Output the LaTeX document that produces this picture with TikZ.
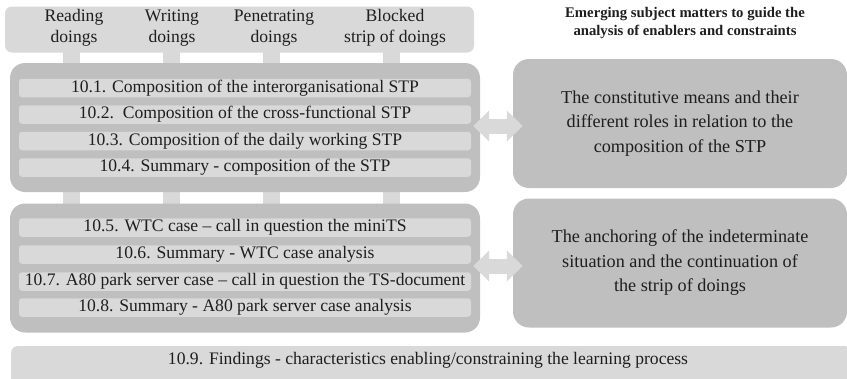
\documentclass[tikz,border=0pt]{standalone}
\usepackage{fontspec}
\setmainfont{Liberation Serif}
\usetikzlibrary{arrows.meta,positioning}
\definecolor{lightgr}{HTML}{D9D9D9}
\definecolor{midgr}{HTML}{BFBFBF}
\definecolor{inkgr}{HTML}{1E1E1E}
\begin{document}
\begin{tikzpicture}[x=1pt, y=-1pt, line join=round, text=inkgr,
	font=\fontsize{17.6}{21}\selectfont,
	bar/.style={fill=lightgr, rounded corners=7pt, inner sep=0pt},
	item/.style={fill=lightgr, rounded corners=3pt, minimum width=452pt, minimum height=18.5pt, inner sep=0pt},
	group/.style={fill=midgr, rounded corners=15pt, minimum width=470pt, minimum height=129pt, inner sep=0pt},
	subject/.style={fill=midgr, rounded corners=16pt, minimum width=334pt, minimum height=129pt, inner sep=0pt,
		align=center, font=\fontsize{18.2}{24.5}\selectfont},
	fatarrow/.style={draw=lightgr, line width=15pt,
		{Triangle[length=16pt,width=30pt]}-{Triangle[length=16pt,width=30pt]}}]
	\useasboundingbox (0,0) rectangle (847,378);
	% strips of doings behind the groups
	\foreach \xs in {71, 171, 271, 391} {
		\fill[lightgr] (\xs-8.5, 50) rectangle (\xs+8.5, 206);
	}
	\node[bar, minimum width=469pt, minimum height=46pt] (top) at (239.5, 29.5) {};
	\foreach \xs/\lbl/\nm in {
		74/{Reading\\doings}/read,
		172/{Writing\\doings}/write,
		274/{Penetrating\\doings}/pen,
		395/{Blocked\\strip of doings}/block
	} {
		\node[align=center, inner sep=0pt] (\nm) at (\xs, 28) {\lbl};
	}
	\node[font=\bfseries\fontsize{14.7}{18}\selectfont, align=center] (head) at (685, 23)
		{Emerging subject matters to guide the\\analysis of enablers and constraints};
	% chapter groups
	\node[group] (g1) at (245, 127.5) {};
	\node[group] (g2) at (245, 268) {};
	\foreach \yy/\lbl/\nm in {
		88/{10.1. Composition of the interorganisational STP}/s1,
		114.5/{10.2.\ \ Composition of the cross-functional STP}/s2,
		141/{10.3. Composition of the daily working STP}/s3,
		167.5/{10.4. Summary - composition of the STP}/s4,
		227.5/{10.5. WTC case -- call in question the miniTS}/s5,
		254.5/{10.6. Summary - WTC case analysis}/s6,
		281.5/{10.7. A80 park server case -- call in question the TS-document}/s7,
		307.5/{10.8. Summary - A80 park server case analysis}/s8
	} {
		\node[item] (\nm) at (245, \yy) {\lbl};
	}
	\node[subject] (b1) at (680, 123.5) {The constitutive means and their\\different roles in relation to the\\composition of the STP};
	\node[subject] (b2) at (680, 263) {The anchoring of the indeterminate\\situation and the continuation of\\the strip of doings};
	\draw[fatarrow] ([xshift=-7pt]g1.east |- 0,126) -- ([xshift=10pt]b1.west |- 0,126);
	\draw[fatarrow] ([xshift=-7pt]g2.east |- 0,266) -- ([xshift=10pt]b2.west |- 0,266);
	\node[bar, rounded corners=6pt, minimum width=840pt, minimum height=40pt, anchor=north west] (find) at (11, 346) {};
	\node (findtxt) at (428, 360) {10.9. Findings - characteristics enabling/constraining the learning process};
\end{tikzpicture}
\end{document}
